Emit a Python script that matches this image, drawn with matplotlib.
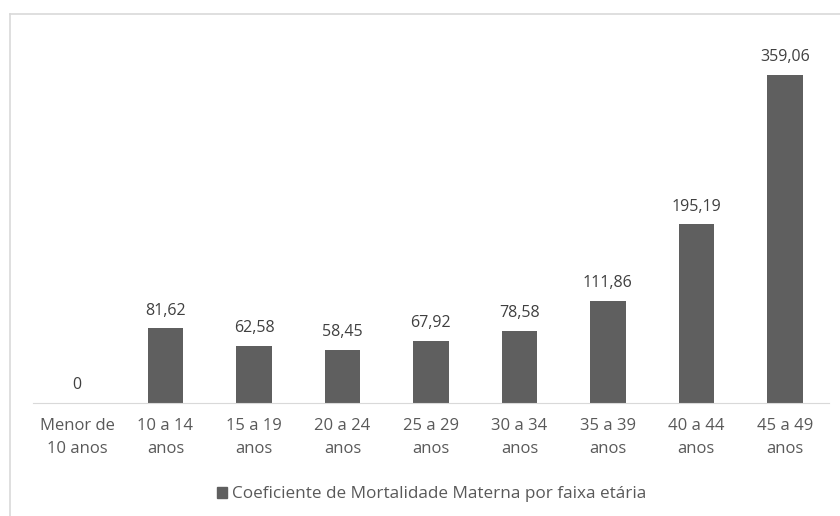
import matplotlib.pyplot as plt
from matplotlib.lines import Line2D
from matplotlib.patches import Patch

categorias = ["Menor de\n10 anos", "10 a 14\nanos", "15 a 19\nanos", "20 a 24\nanos",
              "25 a 29\nanos", "30 a 34\nanos", "35 a 39\nanos", "40 a 44\nanos", "45 a 49\nanos"]
valores = [0, 81.62, 62.58, 58.45, 67.92, 78.58, 111.86, 195.19, 359.06]
serie = "Coeficiente de Mortalidade Materna por faixa etária"

plt.rcParams['font.family'] = ['Open Sans', 'DejaVu Sans']
cor_texto = '#595959'
cor_barra = '#5f5f5f'

fig = plt.figure(figsize=(8.4, 5.16), dpi=100)
ax = fig.add_axes([0.039, 0.219, 0.948, 0.709])

x = range(len(categorias))
ax.bar(x, valores, width=0.4, color=cor_barra)

# rótulos de dados no formato brasileiro
for xi, v in zip(x, valores):
    txt = "0" if v == 0 else f"{v:.2f}".replace(".", ",")
    ax.annotate(txt, (xi, v), xytext=(0, 7), textcoords='offset points',
                ha='center', va='bottom', fontsize=11.5, color='#404040')

ax.set_xlim(-0.5, len(categorias) - 0.5)
ax.set_ylim(0, 400)
ax.set_xticks(list(x))
ax.set_xticklabels(categorias, fontsize=12, color=cor_texto, linespacing=1.6)
ax.tick_params(axis='x', length=0, pad=11)
ax.set_yticks([])
for s in ['top', 'right', 'left']:
    ax.spines[s].set_visible(False)
ax.spines['bottom'].set_color('#d9d9d9')

fig.legend(handles=[Patch(color=cor_barra, label=serie)], loc='center',
           bbox_to_anchor=(0.514, 0.042), frameon=False, fontsize=12.3,
           handlelength=0.6, handleheight=0.6, handletextpad=0.3,
           labelcolor=cor_texto)

# borda do gráfico (só esquerda e topo visíveis no recorte)
fig.add_artist(Line2D([10/840, 10/840], [0, 1 - 14/516], transform=fig.transFigure,
                      color='#d9d9d9', lw=1.2))
fig.add_artist(Line2D([10/840, 1], [1 - 14/516, 1 - 14/516], transform=fig.transFigure,
                      color='#d9d9d9', lw=1.2))

fig.savefig("out.png", dpi=100, facecolor='white')
